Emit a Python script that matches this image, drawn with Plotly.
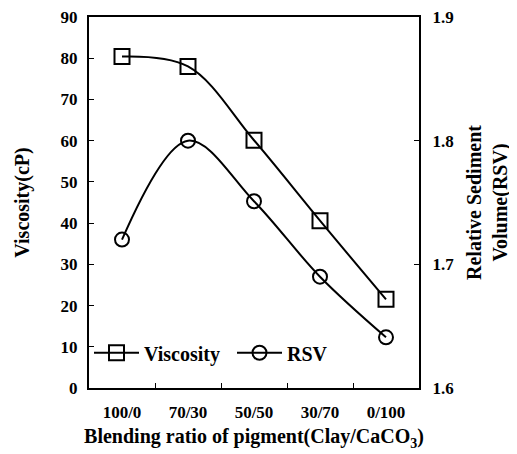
import plotly.graph_objects as go

# Blending ratio categories and measured values
ratios = ['100/0', '70/30', '50/50', '30/70', '0/100']
viscosity = [80.4, 78.0, 60.1, 40.6, 21.5]
rsv = [1.720, 1.800, 1.751, 1.690, 1.641]

font_family = 'Liberation Serif, Times New Roman, serif'
tick_font = dict(family=font_family, size=17, weight='bold', color='black')
title_font = dict(family=font_family, size=20, weight='bold', color='black')

fig = go.Figure()

fig.add_trace(go.Scatter(
    x=ratios, y=viscosity, name='Viscosity',
    mode='lines+markers',
    line=dict(color='black', width=2, shape='spline', smoothing=1),
    marker=dict(symbol='square-open', size=15, color='black', line=dict(width=2)),
))

fig.add_trace(go.Scatter(
    x=ratios, y=rsv, name='RSV', yaxis='y2',
    mode='lines+markers',
    line=dict(color='black', width=2, shape='spline', smoothing=1),
    marker=dict(symbol='circle-open', size=14, color='black', line=dict(width=2)),
))

# the page body adds an 8px offset, so margins are shifted to compensate
fig.update_layout(
    width=517, height=454,
    margin=dict(l=81, r=106, t=9, b=74, autoexpand=False),
    paper_bgcolor='white', plot_bgcolor='white',
    font=dict(family=font_family, color='black', size=16),
    showlegend=True,
    legend=dict(
        orientation='h', x=0.0, y=0.095, xanchor='left', yanchor='middle',
        bgcolor='rgba(0,0,0,0)',
        font=dict(family=font_family, size=20, color='black', weight='bold'),
        itemwidth=45, entrywidth=83,
    ),
    xaxis=dict(
        type='category', range=[-0.5, 4.5],
        showline=True, linecolor='black', linewidth=2, mirror=True,
        ticks='inside', tickson='boundaries', ticklen=5, tickcolor='black',
        showgrid=False, zeroline=False,
        tickfont=tick_font, ticklabelstandoff=8,
        title=dict(text='Blending ratio of pigment(Clay/CaCO<sub>3</sub>)',
                   font=title_font, standoff=8),
    ),
    yaxis=dict(
        range=[0, 90], dtick=10,
        showline=True, linecolor='black', linewidth=2,
        ticks='inside', ticklen=5, tickcolor='black',
        showgrid=False, zeroline=False, ticklabeloverflow='allow',
        tickfont=tick_font, ticklabelstandoff=6,
        title=dict(text='Viscosity(cP)', font=title_font, standoff=26),
    ),
    yaxis2=dict(
        range=[1.6, 1.9], dtick=0.1, tickformat='.1f',
        overlaying='y', side='right',
        showline=True, linecolor='black', linewidth=2,
        ticks='inside', ticklen=5, tickcolor='black',
        showgrid=False, zeroline=False, ticklabeloverflow='allow',
        tickfont=tick_font, ticklabelstandoff=8,
        title=dict(text='Relative Sediment<br>Volume(RSV)', font=title_font, standoff=14),
    ),
)

fig.write_html('out.html')
